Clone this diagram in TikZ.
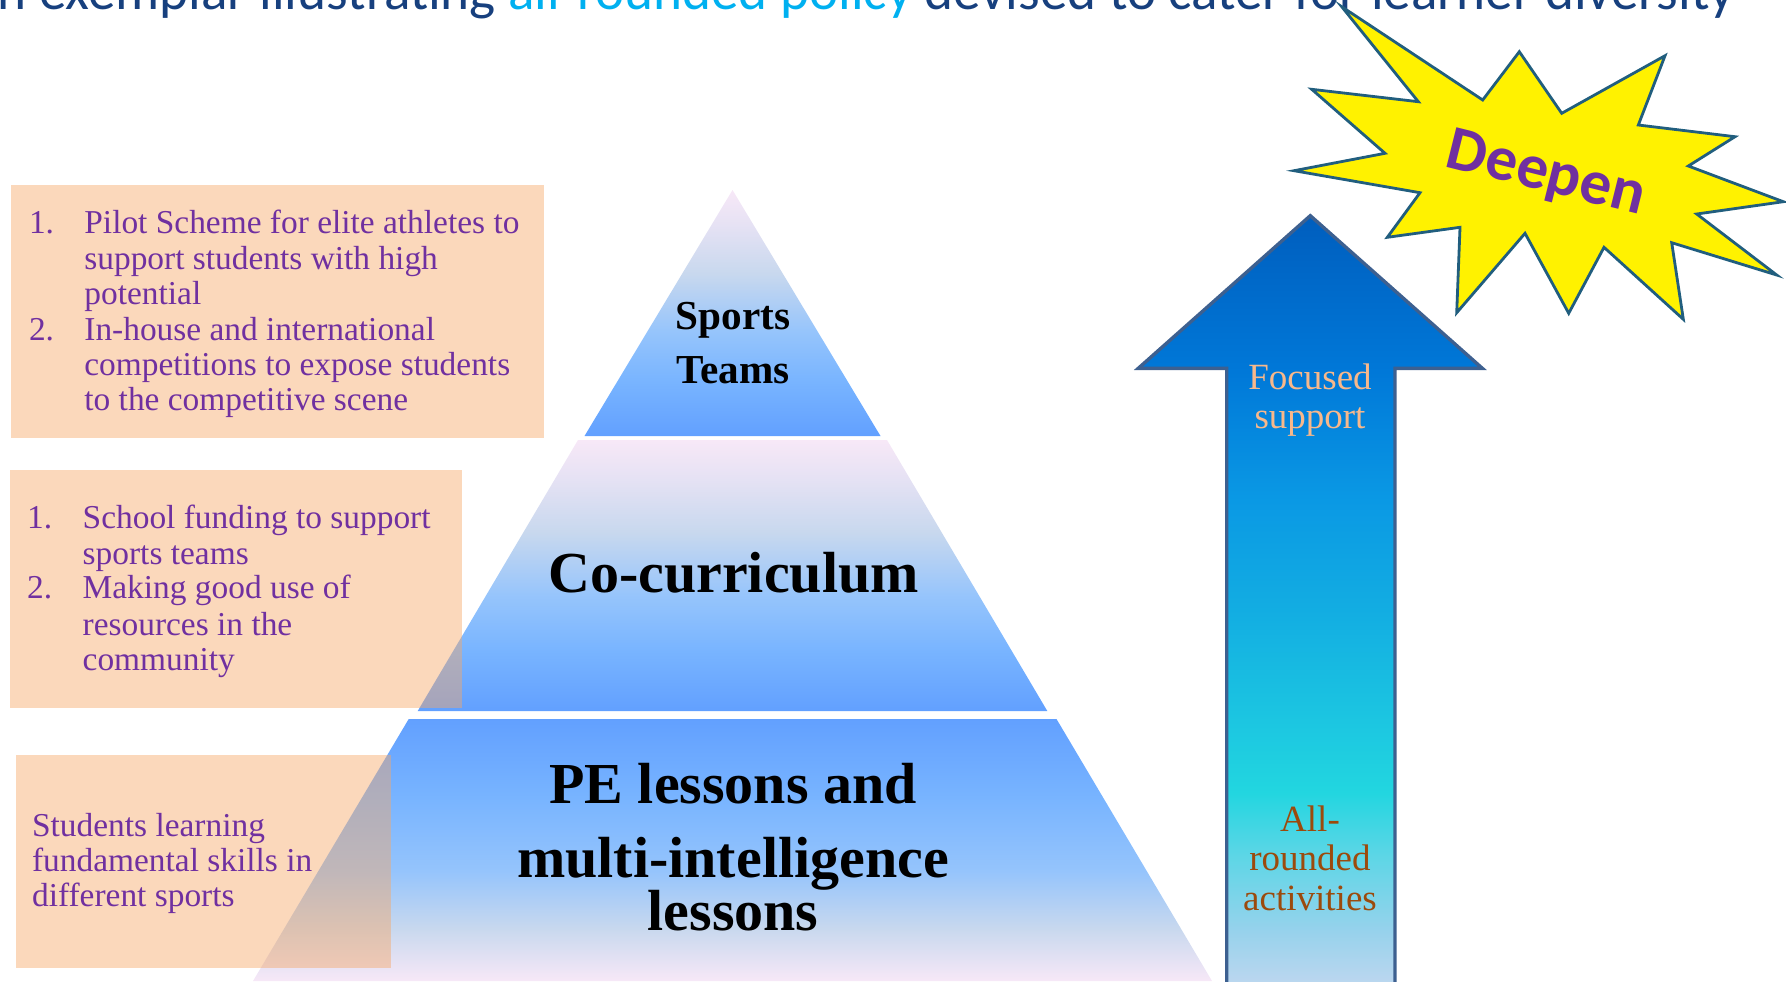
\documentclass[tikz,border=0pt]{standalone}
\usepackage{fontspec}
\setmainfont{Liberation Serif}
\newfontfamily\calibrifont{Carlito}

% palette
\definecolor{titleblue}{HTML}{17407E}
\definecolor{titlecyan}{HTML}{00B0F0}
\definecolor{boxpurple}{HTML}{7030A0}
\definecolor{peach}{HTML}{F6A869}
\definecolor{focuspeach}{HTML}{F8B88B}
\definecolor{rustbrown}{HTML}{9C4A0C}
\definecolor{starline}{HTML}{215E7E}
\definecolor{arrowline}{HTML}{3D6090}
\definecolor{tA}{HTML}{62A0FF}
\definecolor{tB}{HTML}{78B4FF}
\definecolor{tC}{HTML}{95C4FC}
\definecolor{tD}{HTML}{C8D8EE}
\definecolor{tE}{HTML}{E6E2F4}
\definecolor{tF}{HTML}{F7E8F7}
\definecolor{ar1}{HTML}{C4D8F0}
\definecolor{ar2}{HTML}{98D2EC}
\definecolor{ar3}{HTML}{5CD6E6}
\definecolor{ar4}{HTML}{22D6E0}
\definecolor{ar5}{HTML}{12ACE2}
\definecolor{ar6}{HTML}{0A98E4}
\definecolor{ar7}{HTML}{0078D8}
\definecolor{ar8}{HTML}{005EBE}

% tiers fade from blue at the base to lavender at the top
\pgfdeclareverticalshading{tierup}{100bp}{color(0bp)=(tA); color(25bp)=(tA); color(36bp)=(tB);
  color(46bp)=(tC); color(58bp)=(tD); color(68bp)=(tE); color(75bp)=(tF); color(100bp)=(tF)}
% base tier runs the other way
\pgfdeclareverticalshading{tierdown}{100bp}{color(0bp)=(tF); color(25bp)=(tF); color(35bp)=(tD);
  color(46bp)=(tC); color(60bp)=(tB); color(75bp)=(tA); color(100bp)=(tA)}
% big arrow: dark blue head to cyan to pale foot
\pgfdeclareverticalshading{arrowshade}{100bp}{color(0bp)=(ar1); color(25bp)=(ar1); color(29bp)=(ar2);
  color(34bp)=(ar3); color(38bp)=(ar4); color(50bp)=(ar5); color(57bp)=(ar6); color(65bp)=(ar7);
  color(75bp)=(ar8); color(100bp)=(ar8)}

\begin{document}
\begin{tikzpicture}[x=0.5pt, y=-0.5pt,
  tierlabel/.style={anchor=base, inner sep=0pt, text=black,
    font=\bfseries\fontsize{29}{34}\selectfont},
  toplabel/.style={anchor=base, inner sep=0pt, text=black,
    font=\bfseries\fontsize{20.6}{24}\selectfont},
  infobox/.style={fill=peach, fill opacity=0.45, draw=none},
  boxtext/.style={anchor=base west, inner sep=0pt, text=boxpurple,
    font=\fontsize{16.7}{18}\selectfont},
  arrowlabel/.style={anchor=base, inner sep=0pt, font=\fontsize{18.5}{20}\selectfont},
]
\clip (0,0) rectangle (1786,981);

% heading, partly cut off by the top edge
\node[anchor=base east, inner sep=0pt, text=titleblue,
  font=\calibrifont\fontsize{27.6}{30}\selectfont] (title) at (1735,9)
  {An exemplar illustrating \textcolor{titlecyan}{all-rounded policy} devised to cater for learner diversity};

% pyramid tiers
\shade[shading=tierup] (732.5,190) -- (880.5,436) -- (584.5,436) -- cycle;
\shade[shading=tierup] (578,440) -- (887,440) -- (1047.3,711) -- (417.7,711) -- cycle;
\shade[shading=tierdown] (408.7,719) -- (1056.5,719) -- (1212,981) -- (253,981) -- cycle;

\node[toplabel] (sports) at (733,329) {Sports};
\node[toplabel] (teams) at (733,383.5) {Teams};
\node[tierlabel] (cocurr) at (733.5,592.7) {Co-curriculum};
\node[tierlabel] (pe1) at (733,803.3) {PE lessons and};
\node[tierlabel] (pe2) at (733,877.3) {multi-intelligence};
\node[tierlabel] (pe3) at (733,930.7) {lessons};

% side notes
\fill[infobox] (10.7,185) rectangle (543.6,438);
\fill[infobox] (10,470) rectangle (461.7,708.3);
\fill[infobox] (16,755) rectangle (390.7,967.7);

\node[boxtext] (n11) at (28.6,233.3) {1.};
\node[boxtext] (n12) at (28.6,340) {2.};
\foreach \txt/\yy [count=\i] in {Pilot Scheme for elite athletes to/233.3,
    support students with high/269, potential/304.3, In-house and international/340,
    competitions to expose students/375, to the competitive scene/410.7}
  \node[boxtext] (elite-\i) at (84,\yy) {\txt};

\node[boxtext] (n21) at (26.7,528.3) {1.};
\node[boxtext] (n22) at (26.7,598.3) {2.};
\foreach \txt/\yy [count=\i] in {School funding to support/528.3, sports teams/564,
    Making good use of/598.3, resources in the/635, community/670.7}
  \node[boxtext] (cocu-\i) at (82.3,\yy) {\txt};

\foreach \txt/\yy [count=\i] in {Students learning/836.7, fundamental skills in/871.7,
    different sports/906.7}
  \node[boxtext] (base-\i) at (31.7,\yy) {\txt};

% upward arrow
\shade[shading=arrowshade] (1310.3,215.7) -- (1482.3,368.3) -- (1395,368.3) -- (1395,995)
  -- (1226.7,995) -- (1226.7,368.3) -- (1138.3,368.3) -- cycle;
\draw[arrowline, line width=1.7pt, line join=miter] (1226.7,995) -- (1226.7,368.3)
  -- (1138.3,368.3) -- (1310.3,215.7) -- (1482.3,368.3) -- (1395,368.3) -- (1395,995);

\node[arrowlabel, text=focuspeach] (focus1) at (1310,389.3) {Focused};
\node[arrowlabel, text=focuspeach] (focus2) at (1310,428.3) {support};
\node[arrowlabel, text=rustbrown] (allr1) at (1310,831) {All-};
\node[arrowlabel, text=rustbrown] (allr2) at (1310,870.7) {rounded};
\node[arrowlabel, text=rustbrown] (allr3) at (1310,910.7) {activities};

% burst
\draw[starline, line width=1.4pt, fill=yellow, line join=miter]
  (1341.7,6.7) -- (1418.3,101.7) -- (1311.7,89.3) -- (1385,153.3) -- (1294,170.7)
  -- (1420,192.7) -- (1387.3,237.3) -- (1460,227.3) -- (1456.7,312.7) -- (1525,233.3)
  -- (1568.7,313.3) -- (1604,247.3) -- (1683.3,319.3) -- (1671.7,242.7) -- (1776.7,275)
  -- (1696.7,214) -- (1783.3,201.7) -- (1688.3,166) -- (1735,136.7) -- (1638.3,125)
  -- (1665,55.7) -- (1561.7,113.3) -- (1519.3,51.7) -- (1482.7,100) -- cycle;
\node[anchor=base, inner sep=0pt, rotate=-14, text=boxpurple,
  font=\calibrifont\bfseries\fontsize{31.5}{34}\selectfont] (deepen) at (1542,190.5) {Deepen};
\end{tikzpicture}
\end{document}
